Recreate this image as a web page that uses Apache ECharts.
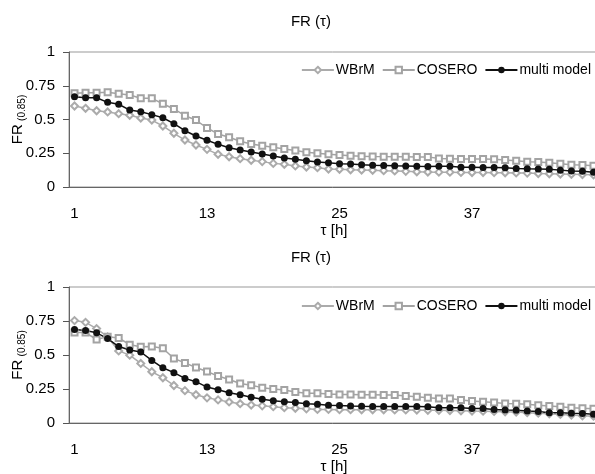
<!DOCTYPE html>
<html><head><meta charset="utf-8">
<script src="https://cdn.jsdelivr.net/npm/echarts@6/dist/echarts.min.js"></script>
<style>html,body{margin:0;padding:0;background:#fff}#c{width:595px;height:474px}</style>
</head><body><div id="c"></div>
<script>
var categories = [];
for (var i = 1; i <= 48; i++) categories.push(String(i));

var topWBrM = [0.600,0.583,0.565,0.556,0.543,0.531,0.511,0.496,0.452,0.398,0.348,0.311,0.279,0.242,0.224,0.210,0.198,
  0.188,0.175,0.168,0.156,0.148,0.143,0.133,0.131,0.128,0.126,0.124,0.121,0.119,0.116,0.113,0.111,
  0.110,0.110,0.108,0.107,0.107,0.106,0.105,0.104,0.103,0.100,0.098,0.096,0.094,0.092,0.090];
var topCOSERO = [0.694,0.699,0.699,0.701,0.691,0.681,0.657,0.657,0.617,0.578,0.528,0.496,0.437,0.393,0.368,0.339,0.319,
  0.306,0.294,0.281,0.270,0.258,0.250,0.243,0.237,0.232,0.228,0.226,0.225,0.224,0.224,0.223,0.222,
  0.212,0.210,0.207,0.207,0.208,0.205,0.200,0.195,0.187,0.185,0.180,0.173,0.165,0.163,0.158];
var topMulti = [0.669,0.661,0.661,0.627,0.613,0.570,0.558,0.536,0.513,0.469,0.417,0.378,0.346,0.316,0.291,0.274,0.259,
  0.244,0.230,0.215,0.205,0.195,0.186,0.180,0.173,0.170,0.165,0.162,0.160,0.157,0.155,0.153,0.152,
  0.153,0.153,0.146,0.146,0.145,0.144,0.143,0.137,0.135,0.134,0.132,0.125,0.118,0.117,0.110];

var botWBrM = [0.753,0.740,0.694,0.633,0.530,0.499,0.438,0.377,0.333,0.276,0.238,0.208,0.185,0.170,0.155,0.142,0.132,
  0.126,0.120,0.113,0.108,0.104,0.100,0.100,0.098,0.098,0.097,0.097,0.097,0.096,0.096,0.095,0.094,
  0.093,0.092,0.090,0.088,0.087,0.085,0.082,0.080,0.076,0.072,0.068,0.063,0.058,0.053,0.050];
var botCOSERO = [0.665,0.665,0.614,0.635,0.625,0.576,0.560,0.563,0.550,0.474,0.442,0.408,0.379,0.345,0.320,0.291,0.278,
  0.260,0.250,0.242,0.228,0.218,0.218,0.213,0.210,0.210,0.208,0.208,0.205,0.205,0.198,0.193,0.186,
  0.181,0.181,0.169,0.161,0.157,0.150,0.144,0.142,0.137,0.130,0.125,0.120,0.113,0.108,0.104];
var botMulti = [0.687,0.680,0.663,0.621,0.562,0.537,0.522,0.460,0.406,0.370,0.328,0.304,0.264,0.245,0.223,0.207,0.190,
  0.174,0.164,0.157,0.150,0.142,0.137,0.130,0.128,0.125,0.123,0.122,0.122,0.122,0.122,0.121,0.120,
  0.113,0.113,0.113,0.106,0.106,0.100,0.095,0.093,0.088,0.084,0.076,0.076,0.071,0.069,0.064];

var yTicks = [0, 0.25, 0.5, 0.75, 1];
var seriesNames = ['WBrM', 'COSERO', 'multi model'];
var titleText = 'FR (\u03c4)';
var xName = '\u03c4 [h]';

var FONT = '"Liberation Sans", Arial, sans-serif';
var chart = echarts.init(document.getElementById('c'), null, {renderer: 'canvas'});

function xAx(gi) {
  return {
    type: 'category', gridIndex: gi, data: categories, boundaryGap: true,
    name: xName, nameLocation: 'middle', nameGap: 36, nameMoveOverlap: false,
    nameTextStyle: {fontFamily: FONT, fontSize: 15, color: '#000'},
    axisLine: {lineStyle: {color: '#666', width: 1}},
    axisTick: {interval: 2, length: 5, lineStyle: {color: '#555'}},
    axisLabel: {interval: 11, fontFamily: FONT, fontSize: 15, color: '#000', margin: 19}
  };
}
function yAx(gi) {
  return {
    type: 'value', gridIndex: gi, min: 0, max: 1, interval: 0.25,
    name: '{a|FR} {b|(0.85)}', nameLocation: 'middle', nameGap: 44, nameRotate: 90, nameMoveOverlap: false,
    nameTextStyle: {lineHeight: 16, rich: {
      a: {fontFamily: FONT, fontSize: 15, color: '#000', lineHeight: 16, verticalAlign: 'bottom'},
      b: {fontFamily: FONT, fontSize: 10, color: '#000', lineHeight: 16, verticalAlign: 'bottom', padding: [0, 0, -2, 0]}}},
    axisLine: {show: true, lineStyle: {color: '#666', width: 1}},
    axisTick: {show: true, length: 6, lineStyle: {color: '#555'}},
    splitLine: {show: false},
    axisLabel: {fontFamily: FONT, fontSize: 15, color: '#000', margin: 14,
      formatter: function (v) { return yTicks.indexOf(v) >= 0 ? String(v) : ''; }}
  };
}
function mkSeries(gi, w, c, m) {
  var cfg = [
    {name: seriesNames[0], data: w, symbol: 'emptyDiamond', symbolSize: 7, color: '#ababab', lw: 1.5},
    {name: seriesNames[1], data: c, symbol: 'emptyRect', symbolSize: 6, color: '#a3a3a3', lw: 1.5},
    {name: seriesNames[2], data: m, symbol: 'circle', symbolSize: 7, color: '#111111', lw: 1.5}
  ];
  return cfg.map(function (s) {
    return {
      type: 'line', name: s.name, xAxisIndex: gi, yAxisIndex: gi, data: s.data,
      symbol: s.symbol, symbolSize: s.symbolSize, showAllSymbol: true,
      lineStyle: {color: s.color, width: s.lw},
      itemStyle: {color: s.color, borderWidth: 1.2},
      animation: false
    };
  });
}
function legend(top) {
  return {
    data: seriesNames, right: 4, top: top, itemWidth: 32, itemHeight: 8, itemGap: 7,
    textStyle: {fontFamily: FONT, fontSize: 14, color: '#000', padding: [0, 0, 0, -3]}, padding: 0
  };
}

chart.setOption({
  backgroundColor: '#fff',
  animation: false,
  title: [
    {text: titleText, left: 306, top: 9, textAlign: 'center', textStyle: {fontFamily: FONT, fontSize: 15, fontWeight: 'normal', color: '#000'}},
    {text: titleText, left: 306, top: 245, textAlign: 'center', textStyle: {fontFamily: FONT, fontSize: 15, fontWeight: 'normal', color: '#000'}}
  ],
  legend: [legend(63), legend(299)],
  grid: [
    {left: 69, top: 52, width: 530, height: 135, show: true, borderColor: '#999', borderWidth: 1, containLabel: false, outerBoundsMode: 'none'},
    {left: 69, top: 287, width: 530, height: 136, show: true, borderColor: '#999', borderWidth: 1, containLabel: false, outerBoundsMode: 'none'}
  ],
  xAxis: [xAx(0), xAx(1)],
  yAxis: [yAx(0), yAx(1)],
  series: mkSeries(0, topWBrM, topCOSERO, topMulti).concat(mkSeries(1, botWBrM, botCOSERO, botMulti))
});
</script></body></html>
